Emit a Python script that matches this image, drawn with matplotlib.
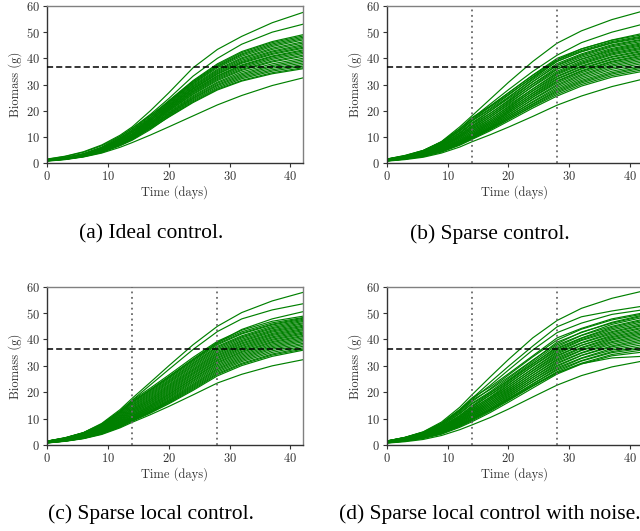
import matplotlib
matplotlib.use("Agg")
import matplotlib.pyplot as plt

plt.rcParams['font.family'] = 'serif'
plt.rcParams['font.serif'] = ['cmr10', 'DejaVu Serif']
plt.rcParams['axes.formatter.use_mathtext'] = True

# sample times (days) the curves were read at
t_days = [0, 3, 6, 9, 12, 14, 17, 20, 24, 28, 32, 37, 42]
target = 36.5
check_days = [14, 28]

# (a) ideal control
curves_a = [
    [1.5, 2.6, 4.3, 6.9, 10.6, 13.8, 20.0, 26.8, 36.4, 43.4, 48.4, 53.6, 57.5],
    [1.4, 2.5, 4.1, 6.6, 10.2, 13.2, 18.6, 24.6, 33.2, 40.0, 45.4, 50.0, 53.0],
    [1.2, 2.0, 3.5, 5.9, 9.6, 12.7, 18.0, 23.8, 31.5, 37.9, 42.6, 46.4, 49.0],
    [1.1, 1.9, 3.2, 5.5, 9.0, 11.9, 17.3, 23.6, 31.2, 37.5, 42.2, 46.0, 48.5],
    [1.25, 2.1, 3.6, 6.1, 10.0, 13.3, 18.2, 23.3, 30.9, 37.1, 41.7, 45.5, 48.0],
    [1.05, 1.8, 3.0, 5.1, 8.4, 11.1, 16.6, 23.1, 30.5, 36.8, 41.3, 45.0, 47.5],
    [1.2, 2.0, 3.4, 5.8, 9.4, 12.5, 17.5, 22.8, 30.2, 36.4, 40.8, 44.5, 47.0],
    [1.1, 1.9, 3.2, 5.4, 8.8, 11.7, 16.7, 22.5, 29.8, 35.8, 40.2, 43.9, 46.3],
    [1.0, 1.7, 2.9, 4.9, 8.0, 10.6, 15.9, 22.2, 29.4, 35.4, 39.8, 43.4, 45.8],
    [1.15, 2.0, 3.3, 5.6, 9.2, 12.2, 16.9, 22.0, 29.1, 35.0, 39.3, 42.8, 45.2],
    [1.05, 1.8, 3.0, 5.1, 8.4, 11.1, 16.1, 21.7, 28.7, 34.6, 38.8, 42.4, 44.7],
    [0.95, 1.6, 2.8, 4.7, 7.6, 10.1, 15.2, 21.5, 28.4, 34.2, 38.4, 41.9, 44.2],
    [1.1, 1.9, 3.2, 5.4, 8.8, 11.7, 16.3, 21.3, 28.2, 33.9, 38.1, 41.5, 43.8],
    [1.0, 1.7, 2.9, 4.9, 8.0, 10.6, 15.4, 21.0, 27.8, 33.4, 37.5, 40.9, 43.2],
    [0.9, 1.5, 2.6, 4.4, 7.2, 9.5, 14.6, 20.8, 27.5, 33.1, 37.2, 40.6, 42.8],
    [1.05, 1.8, 3.0, 5.1, 8.4, 11.1, 15.6, 20.5, 27.2, 32.7, 36.8, 40.1, 42.3],
    [0.95, 1.6, 2.8, 4.7, 7.6, 10.1, 14.8, 20.3, 26.9, 32.3, 36.3, 39.6, 41.8],
    [1.0, 1.7, 2.9, 4.9, 8.0, 10.6, 15.0, 20.0, 26.5, 31.9, 35.8, 39.0, 41.2],
    [0.9, 1.5, 2.55, 4.3, 7.0, 9.3, 14.1, 19.8, 26.2, 31.5, 35.4, 38.6, 40.7],
    [1.0, 1.7, 2.8, 4.8, 7.8, 10.4, 14.7, 19.4, 25.7, 30.9, 34.8, 37.9, 40.0],
    [0.9, 1.5, 2.6, 4.4, 7.2, 9.5, 14.0, 19.1, 25.3, 30.5, 34.2, 37.3, 39.4],
    [0.85, 1.45, 2.5, 4.2, 6.8, 9.0, 13.5, 18.8, 24.9, 30.0, 33.7, 36.8, 38.8],
    [0.95, 1.6, 2.8, 4.7, 7.6, 10.1, 14.1, 18.6, 24.6, 29.6, 33.2, 36.2, 38.2],
    [0.85, 1.45, 2.5, 4.2, 6.8, 9.0, 13.3, 18.3, 24.2, 29.1, 32.7, 35.6, 37.6],
    [0.9, 1.55, 2.7, 4.5, 7.4, 9.8, 13.7, 18.0, 23.8, 28.6, 32.2, 35.1, 37.0],
    [0.8, 1.4, 2.4, 4.0, 6.6, 8.7, 12.8, 17.7, 23.4, 28.2, 31.6, 34.5, 36.4],
    [0.9, 1.5, 2.55, 4.3, 7.0, 9.3, 13.2, 17.5, 23.1, 27.9, 31.3, 34.1, 36.0],
    [0.7, 1.3, 2.3, 3.8, 6.0, 7.8, 10.7, 13.8, 18.0, 22.2, 25.8, 29.6, 32.5],
]

# (b) sparse control
curves_b = [
    [1.4, 2.6, 4.7, 8.2, 13.8, 18.0, 24.4, 30.8, 38.8, 45.8, 50.5, 54.8, 58.0],
    [1.4, 2.6, 4.6, 7.9, 13.0, 17.0, 22.5, 28.0, 35.0, 41.2, 46.0, 50.0, 53.0],
    [1.35, 2.5, 4.4, 7.6, 12.4, 16.4, 21.6, 26.8, 33.5, 39.5, 43.6, 47.0, 49.5],
    [1.5, 2.9, 4.8, 8.1, 13.1, 17.3, 21.8, 26.8, 33.6, 40.0, 43.6, 46.9, 49.0],
    [1.45, 2.7, 4.5, 7.6, 12.3, 16.2, 20.8, 25.9, 32.9, 39.4, 43.0, 46.4, 48.5],
    [1.5, 2.8, 4.8, 8.0, 12.9, 17.0, 21.4, 26.2, 32.7, 38.8, 42.6, 46.0, 48.2],
    [1.35, 2.5, 4.2, 7.0, 11.4, 15.0, 19.8, 25.0, 32.2, 38.9, 42.5, 45.8, 47.8],
    [1.4, 2.6, 4.5, 7.5, 12.2, 16.0, 20.4, 25.2, 31.8, 38.0, 41.7, 45.2, 47.3],
    [1.3, 2.3, 4.0, 6.7, 10.8, 14.2, 18.9, 24.0, 31.0, 37.5, 41.3, 44.8, 47.0],
    [1.4, 2.5, 4.3, 7.2, 11.7, 15.4, 19.8, 24.6, 31.1, 37.2, 40.9, 44.4, 46.5],
    [1.2, 2.2, 3.8, 6.4, 10.3, 13.6, 18.2, 23.3, 30.2, 36.6, 40.4, 43.8, 46.0],
    [1.3, 2.4, 4.1, 7.0, 11.2, 14.8, 19.0, 23.7, 30.1, 36.0, 39.8, 43.4, 45.6],
    [1.15, 2.1, 3.6, 6.1, 9.8, 12.9, 17.5, 22.5, 29.4, 35.8, 39.6, 43.0, 45.2],
    [1.25, 2.3, 3.9, 6.6, 10.6, 14.0, 18.2, 22.9, 29.2, 35.1, 39.0, 42.6, 44.8],
    [1.1, 2.0, 3.4, 5.7, 9.3, 12.2, 16.7, 21.6, 28.3, 34.6, 38.5, 42.1, 44.3],
    [1.2, 2.2, 3.7, 6.3, 10.1, 13.3, 17.5, 22.1, 28.3, 34.2, 38.1, 41.7, 43.9],
    [1.05, 1.9, 3.2, 5.5, 8.8, 11.6, 16.0, 20.9, 27.6, 33.8, 37.7, 41.3, 43.5],
    [1.15, 2.1, 3.6, 6.0, 9.7, 12.7, 16.8, 21.3, 27.5, 33.2, 37.1, 40.7, 43.0],
    [1.0, 1.8, 3.1, 5.2, 8.4, 11.0, 15.4, 20.2, 26.8, 32.9, 36.8, 40.4, 42.6],
    [1.1, 2.0, 3.4, 5.7, 9.2, 12.1, 16.1, 20.6, 26.6, 32.3, 36.2, 39.8, 42.1],
    [0.95, 1.75, 3.0, 5.0, 8.1, 10.6, 14.9, 19.6, 26.0, 32.0, 35.9, 39.5, 41.7],
    [1.05, 1.9, 3.2, 5.4, 8.7, 11.5, 15.5, 19.9, 25.8, 31.4, 35.3, 38.9, 41.2],
    [0.9, 1.7, 2.9, 4.8, 7.8, 10.2, 14.4, 19.0, 25.2, 31.1, 35.0, 38.6, 40.8],
    [1.0, 1.8, 3.1, 5.2, 8.4, 11.0, 14.9, 19.2, 25.1, 30.6, 34.5, 38.1, 40.3],
    [0.9, 1.6, 2.8, 4.7, 7.5, 9.9, 13.9, 18.3, 24.4, 30.0, 33.9, 37.5, 39.8],
    [0.95, 1.7, 2.9, 4.9, 8.0, 10.5, 14.3, 18.5, 24.2, 29.5, 33.4, 37.0, 39.2],
    [0.85, 1.6, 2.7, 4.6, 7.4, 9.7, 13.5, 17.8, 23.5, 28.9, 32.8, 36.4, 38.6],
    [0.9, 1.7, 2.8, 4.7, 7.7, 10.1, 13.7, 17.7, 23.2, 28.3, 32.2, 35.8, 38.0],
    [0.85, 1.55, 2.6, 4.4, 7.1, 9.4, 13.1, 17.1, 22.6, 27.8, 31.6, 35.1, 37.3],
    [0.9, 1.6, 2.7, 4.6, 7.4, 9.8, 13.3, 17.2, 22.4, 27.3, 31.1, 34.5, 36.7],
    [0.8, 1.5, 2.6, 4.3, 7.0, 9.2, 12.7, 16.6, 21.9, 26.8, 30.6, 34.0, 36.2],
    [0.85, 1.6, 2.7, 4.5, 7.3, 9.6, 12.9, 16.6, 21.6, 26.2, 30.0, 33.4, 35.6],
    [0.8, 1.5, 2.5, 4.2, 6.8, 9.0, 12.3, 16.0, 21.0, 25.6, 29.4, 32.8, 35.0],
    [0.7, 1.3, 2.2, 3.8, 6.1, 8.1, 10.8, 13.7, 17.8, 22.1, 25.6, 29.2, 32.0],
]

# (c) sparse local control
curves_c = [
    [1.45, 2.7, 4.7, 8.2, 13.4, 17.7, 23.8, 30.0, 38.0, 45.0, 50.2, 54.6, 57.8],
    [1.4, 2.6, 4.6, 7.9, 12.9, 17.0, 22.8, 28.6, 36.2, 43.0, 47.8, 51.2, 53.5],
    [1.4, 2.6, 4.5, 7.6, 12.4, 16.3, 21.0, 25.8, 32.2, 38.8, 43.8, 47.8, 50.5],
    [1.45, 2.8, 4.7, 7.9, 12.8, 16.9, 21.6, 26.5, 33.2, 39.3, 43.5, 46.9, 48.8],
    [1.45, 2.7, 4.6, 7.7, 12.5, 16.5, 21.0, 25.9, 32.6, 38.9, 42.9, 46.3, 48.3],
    [1.4, 2.6, 4.5, 7.5, 12.2, 16.0, 20.6, 25.5, 32.1, 38.4, 42.4, 45.8, 48.0],
    [1.4, 2.6, 4.4, 7.3, 11.9, 15.6, 20.2, 25.1, 31.6, 38.0, 42.1, 45.5, 47.6],
    [1.35, 2.5, 4.3, 7.1, 11.6, 15.2, 19.8, 24.6, 31.1, 37.4, 41.4, 45.0, 47.2],
    [1.35, 2.5, 4.2, 7.0, 11.3, 14.9, 19.4, 24.2, 30.7, 37.0, 41.0, 44.5, 46.8],
    [1.3, 2.4, 4.1, 6.8, 11.0, 14.5, 19.0, 23.8, 30.2, 36.5, 40.6, 44.1, 46.3],
    [1.3, 2.35, 4.0, 6.7, 10.8, 14.2, 18.6, 23.4, 29.8, 36.0, 40.1, 43.6, 45.9],
    [1.25, 2.3, 3.9, 6.5, 10.5, 13.8, 18.2, 22.9, 29.3, 35.5, 39.6, 43.2, 45.4],
    [1.2, 2.2, 3.8, 6.3, 10.3, 13.5, 17.8, 22.5, 28.8, 35.0, 39.2, 42.8, 45.0],
    [1.2, 2.2, 3.7, 6.2, 10.0, 13.2, 17.4, 22.1, 28.4, 34.6, 38.7, 42.3, 44.6],
    [1.15, 2.1, 3.6, 6.1, 9.8, 12.9, 17.1, 21.7, 28.0, 34.1, 38.3, 41.9, 44.1],
    [1.15, 2.1, 3.5, 5.9, 9.6, 12.6, 16.7, 21.3, 27.5, 33.7, 37.8, 41.5, 43.7],
    [1.1, 2.0, 3.4, 5.8, 9.3, 12.3, 16.4, 20.9, 27.1, 33.2, 37.4, 41.0, 43.3],
    [1.1, 2.0, 3.4, 5.6, 9.1, 12.0, 16.0, 20.5, 26.7, 32.8, 36.9, 40.6, 42.8],
    [1.05, 1.9, 3.3, 5.5, 8.9, 11.7, 15.7, 20.1, 26.2, 32.3, 36.5, 40.1, 42.4],
    [1.05, 1.9, 3.2, 5.4, 8.7, 11.4, 15.3, 19.7, 25.8, 31.9, 36.0, 39.7, 42.0],
    [1.0, 1.8, 3.1, 5.2, 8.4, 11.1, 15.0, 19.3, 25.3, 31.4, 35.5, 39.2, 41.5],
    [1.0, 1.8, 3.05, 5.1, 8.3, 10.9, 14.7, 19.0, 25.0, 31.0, 35.1, 38.8, 41.1],
    [0.95, 1.75, 3.0, 5.0, 8.1, 10.6, 14.4, 18.6, 24.5, 30.5, 34.6, 38.3, 40.6],
    [0.95, 1.7, 2.9, 4.9, 7.9, 10.4, 14.1, 18.2, 24.1, 30.0, 34.1, 37.8, 40.1],
    [0.9, 1.7, 2.85, 4.8, 7.8, 10.2, 13.8, 17.9, 23.6, 29.5, 33.6, 37.3, 39.6],
    [0.9, 1.65, 2.8, 4.7, 7.6, 10.0, 13.5, 17.5, 23.1, 29.0, 33.1, 36.8, 39.1],
    [0.9, 1.6, 2.75, 4.6, 7.4, 9.8, 13.2, 17.1, 22.7, 28.6, 32.6, 36.3, 38.5],
    [0.85, 1.6, 2.7, 4.5, 7.3, 9.6, 12.9, 16.8, 22.3, 28.1, 32.1, 35.7, 38.0],
    [0.85, 1.55, 2.6, 4.4, 7.1, 9.4, 12.7, 16.5, 21.9, 27.6, 31.6, 35.1, 37.4],
    [0.85, 1.5, 2.6, 4.4, 7.1, 9.3, 12.5, 16.2, 21.5, 27.1, 31.0, 34.5, 36.8],
    [0.8, 1.5, 2.55, 4.3, 6.9, 9.1, 12.3, 15.9, 21.1, 26.7, 30.6, 34.1, 36.3],
    [0.8, 1.5, 2.5, 4.2, 6.8, 9.0, 12.1, 15.6, 20.7, 26.2, 30.1, 33.6, 35.9],
    [0.75, 1.4, 2.4, 4.0, 6.5, 8.6, 11.5, 14.6, 19.0, 23.5, 26.8, 30.0, 32.3],
]

# (d) sparse local control with noise
curves_d = [
    [1.5, 2.9, 5.0, 8.7, 14.3, 19.0, 25.8, 32.4, 40.6, 47.2, 51.8, 55.6, 58.3],
    [1.5, 2.8, 4.8, 8.2, 13.3, 17.6, 23.8, 29.8, 37.5, 44.8, 48.6, 50.8, 52.6],
    [1.45, 2.8, 4.7, 8.0, 13.0, 17.2, 22.6, 28.4, 36.0, 42.6, 46.2, 49.5, 51.2],
    [1.5, 2.9, 4.9, 8.3, 13.5, 17.8, 22.0, 27.0, 33.8, 40.6, 44.2, 47.8, 50.0],
    [1.45, 2.7, 4.6, 7.7, 12.4, 16.4, 21.3, 26.5, 33.4, 39.8, 43.9, 47.4, 49.6],
    [1.4, 2.6, 4.4, 7.4, 12.0, 15.8, 20.2, 25.2, 32.0, 39.0, 42.6, 46.5, 49.2],
    [1.5, 2.8, 4.7, 7.9, 12.8, 16.9, 21.0, 25.7, 32.2, 38.4, 42.8, 46.2, 48.8],
    [1.3, 2.4, 4.1, 7.0, 11.2, 14.8, 19.6, 24.6, 31.4, 37.9, 41.6, 45.7, 48.3],
    [1.3, 2.35, 4.0, 6.7, 10.8, 14.2, 19.0, 24.0, 30.6, 37.3, 41.5, 45.0, 47.6],
    [1.4, 2.55, 4.3, 7.3, 11.8, 15.5, 19.8, 24.4, 30.8, 36.8, 40.6, 44.6, 47.2],
    [1.2, 2.2, 3.8, 6.4, 10.3, 13.6, 18.2, 23.2, 30.0, 36.4, 40.4, 44.1, 46.7],
    [1.3, 2.4, 4.1, 6.9, 11.1, 14.6, 18.9, 23.5, 29.8, 35.9, 39.9, 43.6, 46.1],
    [1.15, 2.15, 3.6, 6.1, 9.9, 13.0, 17.6, 22.5, 29.0, 35.4, 39.6, 43.0, 45.6],
    [1.25, 2.3, 3.9, 6.5, 10.6, 13.9, 18.0, 22.6, 28.9, 35.0, 38.8, 42.6, 45.2],
    [1.1, 2.05, 3.5, 5.8, 9.4, 12.4, 16.9, 21.7, 28.2, 34.5, 38.6, 42.1, 44.6],
    [1.2, 2.2, 3.7, 6.3, 10.1, 13.3, 17.4, 21.9, 28.0, 34.0, 37.8, 41.6, 44.2],
    [1.05, 1.95, 3.3, 5.6, 9.0, 11.9, 16.2, 20.9, 27.3, 33.6, 37.8, 41.1, 43.6],
    [1.15, 2.1, 3.6, 6.0, 9.7, 12.8, 16.8, 21.2, 27.2, 33.1, 37.0, 40.7, 43.1],
    [1.05, 1.9, 3.2, 5.4, 8.7, 11.4, 15.6, 20.2, 26.4, 32.6, 36.7, 40.2, 42.6],
    [1.1, 2.0, 3.4, 5.8, 9.3, 12.3, 16.2, 20.5, 26.4, 32.2, 36.0, 39.8, 42.1],
    [1.0, 1.8, 3.05, 5.1, 8.3, 10.9, 15.0, 19.5, 25.6, 31.7, 35.8, 39.2, 41.6],
    [1.05, 1.95, 3.3, 5.5, 9.0, 11.8, 15.6, 19.8, 25.6, 31.2, 35.0, 38.8, 41.0],
    [0.95, 1.7, 2.9, 4.9, 7.9, 10.4, 14.4, 18.8, 24.8, 30.8, 34.8, 38.2, 40.5],
    [1.0, 1.85, 3.2, 5.3, 8.6, 11.3, 15.0, 19.1, 24.8, 30.2, 34.0, 37.6, 39.9],
    [0.9, 1.6, 2.8, 4.7, 7.5, 9.9, 13.8, 18.1, 24.0, 29.8, 33.9, 37.2, 39.3],
    [1.0, 1.8, 3.0, 5.1, 8.2, 10.8, 14.4, 18.4, 24.0, 29.3, 33.0, 36.6, 38.7],
    [0.85, 1.55, 2.65, 4.5, 7.2, 9.5, 13.2, 17.4, 23.2, 28.8, 32.8, 36.0, 38.0],
    [0.95, 1.7, 2.9, 4.8, 7.8, 10.3, 13.8, 17.7, 23.1, 28.4, 32.0, 35.4, 37.3],
    [0.8, 1.5, 2.6, 4.3, 7.0, 9.2, 12.8, 16.8, 22.4, 27.8, 31.8, 35.0, 36.6],
    [0.9, 1.6, 2.75, 4.6, 7.4, 9.8, 13.2, 17.0, 22.3, 27.3, 31.0, 34.3, 36.0],
    [0.8, 1.45, 2.45, 4.1, 6.7, 8.8, 12.3, 16.2, 21.6, 26.9, 30.7, 33.8, 35.2],
    [0.9, 1.6, 2.75, 4.6, 7.4, 9.8, 13.4, 17.4, 22.6, 27.4, 30.8, 33.0, 33.6],
    [0.7, 1.25, 2.1, 3.6, 5.8, 7.6, 10.4, 13.6, 18.2, 22.7, 26.3, 29.6, 31.8],
]

captions = ['(a) Ideal control.', '(b) Sparse control.',
            '(c) Sparse local control.', '(d) Sparse local control with noise.']

W, H = 640, 531
fig = plt.figure(figsize=(W / 100, H / 100), dpi=100)

# axes boxes in pixels: left, top, right, bottom
boxes = [(47, 6, 302.6, 163), (386.7, 6, 642.3, 163),
         (47, 286.7, 302.6, 445), (386.7, 286.7, 642.3, 445)]
cap_pos = [(151, 234), (490, 234), (151, 514), (490, 514)]
all_curves = [curves_a, curves_b, curves_c, curves_d]

for i in range(4):
    l, tp, r, b = boxes[i]
    ax = fig.add_axes([l / W, (H - b) / H, (r - l) / W, (b - tp) / H])
    for c in all_curves[i]:
        ax.plot(t_days, c, color='green', lw=0.85)
    ax.axhline(target, color='black', ls=(0, (4, 2)), lw=1.1, zorder=3)
    if i > 0:
        for d in check_days:
            ax.axvline(d, color='#6a6a6a', ls=(0, (1, 2)), lw=1.3, zorder=3)
    ax.set_xlim(0, 42)
    ax.set_ylim(0, 60)
    ax.set_xticks([0, 10, 20, 30, 40])
    ax.set_yticks([0, 10, 20, 30, 40, 50, 60])
    ax.tick_params(labelsize=9, length=3, width=0.8, colors='#333333', pad=2)
    for s in ['left', 'bottom']:
        ax.spines[s].set_color('#333333')
    for s in ['top', 'right']:
        ax.spines[s].set_color('#808080')
    for s in ax.spines.values():
        s.set_linewidth(1.0)
    ax.set_xlabel('Time (days)', fontsize=9, color='#333333', labelpad=2)
    ax.set_ylabel('Biomass (g)', fontsize=9, color='#333333', labelpad=3)
    cx, cy = cap_pos[i]
    fig.text(cx / W, (H - cy) / H, captions[i], ha='center', va='center',
             fontsize=15.5, family='Liberation Serif')

fig.savefig('out.png', dpi=100)
